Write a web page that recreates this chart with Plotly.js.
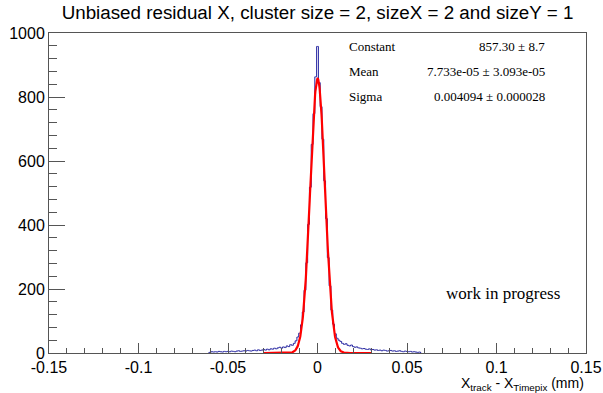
<!DOCTYPE html>
<html>
<head>
<meta charset="utf-8">
<script src="https://cdn.plot.ly/plotly-3.0.1.min.js"></script>
<style>html,body{margin:0;padding:0;background:#fff;}#chart{width:603px;height:393px;}</style>
</head>
<body>
<div id="chart"></div>
<script>
// Histogram: bins of width 0.001 mm, first bin centre and counts
var binWidth = 0.001;
var firstBinCenter = -0.061;
var counts = [
  0,
  // -0.060 .. -0.051
  2,4,3,4,3,5,4,3,5,4,
  // -0.050 .. -0.041
  5,4,6,5,4,6,7,5,6,7,
  // -0.040 .. -0.031
  6,8,7,6,8,9,7,10,8,9,
  // -0.030 .. -0.021
  11,9,12,10,13,12,15,13,16,18,
  // -0.020 .. -0.014
  15,19,17,22,20,26,24,
  // -0.013 .. 0.013
  30,38,50,62,88,128,196,282,402,518,652,748,863,958,845,770,668,538,420,298,210,134,90,60,46,40,36,
  // 0.014 .. 0.023
  30,27,29,24,22,25,20,18,19,16,
  // 0.024 .. 0.033
  15,13,14,12,11,13,10,11,9,10,
  // 0.034 .. 0.043
  8,9,7,9,8,6,7,8,6,7,
  // 0.044 .. 0.053
  5,6,7,5,4,6,5,4,5,3,
  // 0.054 .. 0.057
  4,3,2,3,
  0
];

// Gaussian fit result (stats box)
var statNames = ["Constant", "Mean", "Sigma"];
var statValues = ["857.30 \u00b1 8.7", "7.733e-05 \u00b1 3.093e-05", "0.004094 \u00b1 0.000028"];
var fitConstant = 857.30, fitMean = 7.733e-05, fitSigma = 0.004094;
var fitRange = [-0.03, 0.03];

// Axis ticks
var xTickVals = [-0.15, -0.1, -0.05, 0, 0.05, 0.1, 0.15];
var xTickLabels = ["-0.15", "-0.1", "-0.05", "0", "0.05", "0.1", "0.15"];
var yTickVals = [0, 200, 400, 600, 800, 1000];
var yTickLabels = ["0", "200", "400", "600", "800", "1000"];

var binCenters = counts.map(function(_, i){ return +(firstBinCenter + i*binWidth).toFixed(4); });

var fitX = [], fitY = [];
var nFit = 400;
for (var i = 0; i <= nFit; i++) {
  var x = fitRange[0] + (fitRange[1]-fitRange[0]) * i / nFit;
  fitX.push(x);
  fitY.push(fitConstant * Math.exp(-0.5 * Math.pow((x - fitMean)/fitSigma, 2)));
}

var histTrace = {
  x: binCenters, y: counts, type: 'scatter', mode: 'lines',
  line: {shape: 'hvh', color: '#2424a0', width: 1},
  hoverinfo: 'x+y'
};
var fitTrace = {
  x: fitX, y: fitY, type: 'scatter', mode: 'lines',
  line: {color: '#ff0000', width: 2.2}, hoverinfo: 'skip'
};

var L = 49, R = 586, T = 33, B = 353;
function px(xp){ return (xp - L)/(R - L); }
function py(yp){ return (B - yp)/(B - T); }

var ann = [];
var rowsY = [47, 72, 97];
for (var k = 0; k < statNames.length; k++) {
  ann.push({xref:'paper', yref:'paper', x: px(347), y: py(rowsY[k]), xanchor:'left', yanchor:'middle',
    text: statNames[k], showarrow:false, font:{family:'Liberation Serif, Times New Roman, serif', size:13, color:'#000'}});
  ann.push({xref:'paper', yref:'paper', x: px(547), y: py(rowsY[k]), xanchor:'right', yanchor:'middle',
    text: statValues[k], showarrow:false, font:{family:'Liberation Serif, Times New Roman, serif', size:13, color:'#000'}});
}
ann.push({xref:'paper', yref:'paper', x: px(503), y: py(293), xanchor:'center', yanchor:'middle',
  text: 'work in progress', showarrow:false, font:{family:'Liberation Serif, Times New Roman, serif', size:17, color:'#000'}});
ann.push({xref:'paper', yref:'paper', x: 1, y: py(384), xanchor:'right', yanchor:'middle',
  text: 'X<sub>track</sub> - X<sub>Timepix</sub> (mm)', showarrow:false, font:{family:'Liberation Sans, Arial, sans-serif', size:14, color:'#000'}});

var layout = {
  width: 603, height: 393,
  margin: {l: L, r: 603 - R, t: T, b: 393 - B, pad: 0},
  paper_bgcolor: '#fff', plot_bgcolor: '#fff',
  showlegend: false,
  title: {text: 'Unbiased residual X, cluster size = 2, sizeX = 2 and sizeY = 1',
    x: 0.5, xref: 'paper', y: 1 - 12/393, yref: 'container', yanchor: 'middle',
    font: {family: 'Liberation Sans, Arial, sans-serif', size: 18.8, color: '#000'}},
  xaxis: {
    range: [-0.15, 0.15], tickmode: 'array', tickvals: xTickVals, ticktext: xTickLabels,
    ticks: 'inside', ticklen: 10, tickwidth: 1, tickcolor: '#555',
    minor: {tickmode: 'linear', tick0: -0.15, dtick: 0.01, ticks: 'inside', ticklen: 5, tickcolor: '#555', showgrid: false},
    showline: true, linecolor: '#555', linewidth: 1, mirror: true,
    showgrid: false, zeroline: false,
    tickfont: {family: 'Liberation Sans, Arial, sans-serif', size: 16, color: '#000'}
  },
  yaxis: {
    range: [0, 1000], tickmode: 'array', tickvals: yTickVals, ticktext: yTickLabels,
    ticks: 'inside', ticklen: 16, tickwidth: 1, tickcolor: '#555',
    minor: {tickmode: 'linear', tick0: 0, dtick: 40, ticks: 'inside', ticklen: 8, tickcolor: '#555', showgrid: false},
    showline: true, linecolor: '#555', linewidth: 1, mirror: true,
    showgrid: false, zeroline: false,
    tickfont: {family: 'Liberation Sans, Arial, sans-serif', size: 16, color: '#000'}
  },
  annotations: ann
};

Plotly.newPlot('chart', [histTrace, fitTrace], layout, {staticPlot: true, displayModeBar: false});
</script>
</body>
</html>
